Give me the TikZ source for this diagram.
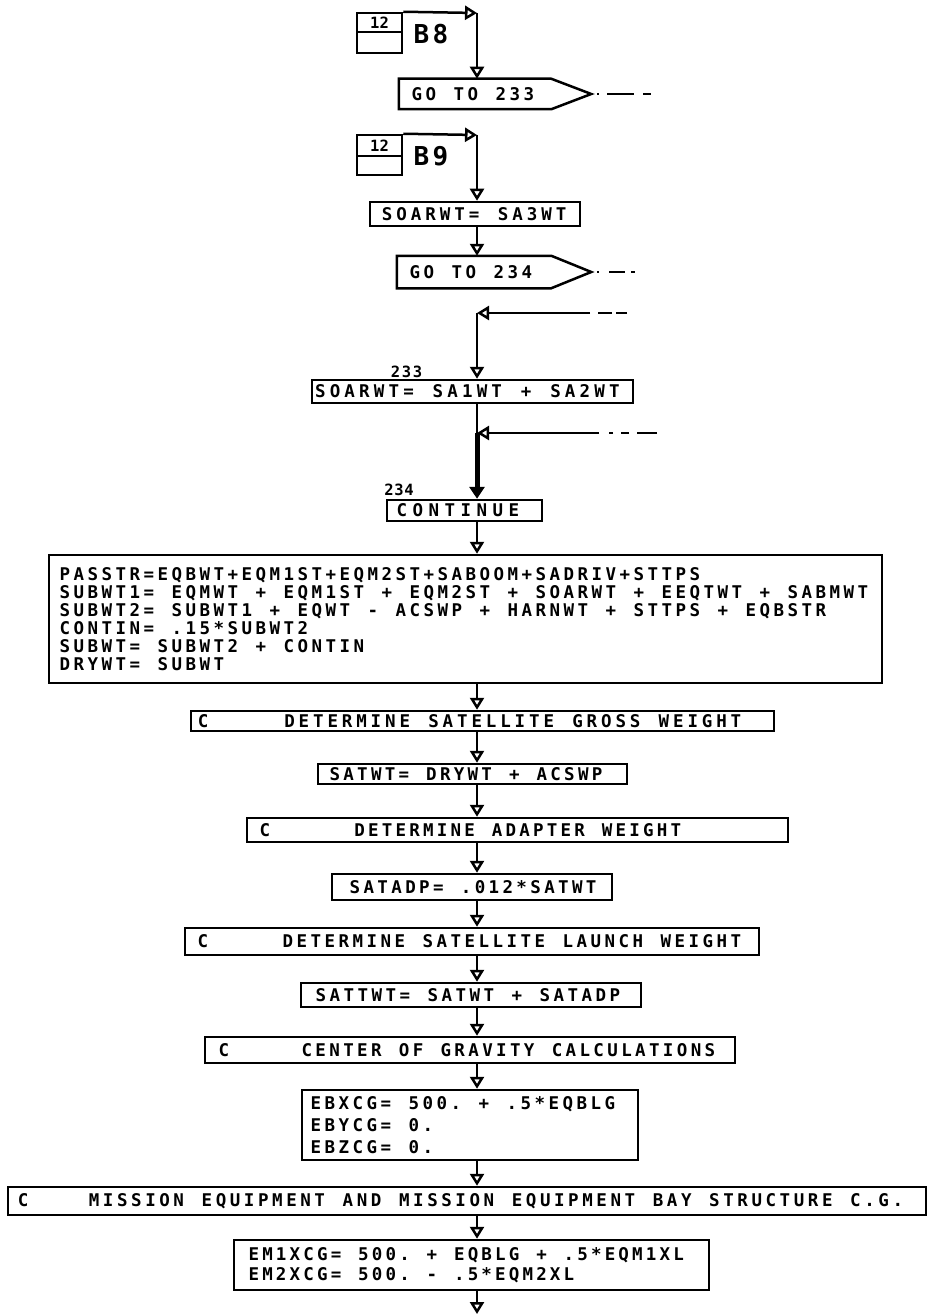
\documentclass[tikz,border=0pt]{standalone}
\usepackage{fontspec}
\usetikzlibrary{arrows.meta,calc}
\newfontfamily\plotfont{DejaVu Sans Mono Bold}
\ExplSyntaxOn
\cs_new_protected:Npn \monow #1 #2
  { \mode_leave_vertical: \str_map_inline:nn {#2} { \hbox_to_wd:nn {#1} { \hfil ##1 \hfil } } }
\ExplSyntaxOff
\newcommand\ctext[3]{\monow{#1}{C}\hspace*{#2}\monow{#1}{#3}}
\tikzset{
  boxline/.style={line width=2.5pt, line join=miter},
  pbox/.style={draw, boxline, rectangle, inner ysep=0pt, align=left,
    font=\plotfont\fontsize{17.5}{18}\selectfont},
  cbox/.style={draw, boxline, rectangle, inner sep=0pt},
  flow/.style={line width=2.5pt},
  thickflow/.style={line width=5pt},
  arr/.style={-{Triangle[open,width=14pt,length=12pt]}},
  farr/.style={-{Triangle[width=15pt,length=12pt]}},
  lbl/.style={inner sep=0pt, font=\plotfont\fontsize{15.5}{15}\selectfont},
  big/.style={inner sep=0pt, font=\plotfont\fontsize{26}{26}\selectfont},
}
\begin{document}
\begin{tikzpicture}[x=1pt,y=-1pt]
\useasboundingbox[fill=white] (0,0) rectangle (930,1316);
\coordinate (axis) at (477,0);

% ---- B8 entry
\node[cbox, minimum width=45pt, minimum height=19pt, lbl] (c8t) at (379.5,22.5) {12};
\node[cbox, minimum width=45pt, minimum height=21pt] (c8b) at (379.5,42.5) {};
\node[big] (b8) at (431,34) {\monow{19pt}{B8}};
\coordinate (k8) at (477,13);
\node[pbox, draw=none, text width=130pt, inner xsep=10pt, minimum height=28pt] (g233) at (475,94) {\monow{14pt}{GO TO 233}};
\coordinate (t233) at ($(g233.east)+(40,0)$);
\coordinate (o233) at (657,94);
\draw[boxline] (g233.north west) -- (g233.north east) -- (t233) -- (g233.south east) -- (g233.south west) -- cycle;
\draw[flow, dash pattern=on 2pt off 8pt on 27pt off 9pt on 8pt off 40pt] ([xshift=6pt]t233) -- (o233);
\draw[flow, arr] (c8t.north east) -- (k8);
\draw[flow, arr] (k8) -- (k8 |- g233.north);

% ---- B9 entry
\node[cbox, minimum width=45pt, minimum height=21pt, lbl] (c9t) at (379.5,145.5) {12};
\node[cbox, minimum width=45pt, minimum height=19pt] (c9b) at (379.5,165.5) {};
\node[big] (b9) at (431,156) {\monow{19pt}{B9}};
\coordinate (k9) at (477,135);
\node[pbox, text width=190pt, inner xsep=10pt, minimum height=24pt] (sa3) at (475,214) {\monow{14.5pt}{SOARWT= SA3WT}};
\node[pbox, draw=none, text width=132pt, inner xsep=10pt, minimum height=30pt] (g234) at (474,272) {\monow{14pt}{GO TO 234}};
\coordinate (t234) at ($(g234.east)+(40,0)$);
\coordinate (o234) at (643,272);
\draw[boxline] (g234.north west) -- (g234.north east) -- (t234) -- (g234.south east) -- (g234.south west) -- cycle;
\draw[flow, dash pattern=on 2pt off 10pt on 16pt off 6pt on 4pt off 40pt] ([xshift=6pt]t234) -- (o234);
\draw[flow, arr] (c9t.north east) -- (k9);
\draw[flow, arr] (k9) -- (k9 |- sa3.north);
\draw[flow, arr] (sa3.south -| axis) -- (g234.north -| axis);

% ---- 233
\coordinate (in233) at (627,313);
\coordinate (j233) at (477,313);
\node[pbox, text width=319pt, inner xsep=1pt, minimum height=23pt] (sa12) at (472.5,391.5) {\monow{14.7pt}{SOARWT= SA1WT + SA2WT}};
\node[lbl] (l233) at (406.5,372) {\monow{11pt}{233}};
\draw[flow, arr, dash pattern=on 11pt off 4pt on 14pt off 8pt on 300pt] (in233) -- (j233);
\draw[flow, arr] (j233) -- (j233 |- sa12.north);

% ---- 234
\coordinate (in234) at (657,433);
\coordinate (j234) at (477,433);
\node[pbox, text width=141pt, inner xsep=7pt, minimum height=21pt] (cont) at (464.5,510.5) {\monow{16pt}{CONTINUE}};
\node[lbl] (l234) at (399,490) {\monow{10pt}{234}};
\draw[flow, arr, dash pattern=on 20pt off 8pt on 8pt off 8pt on 4pt off 10pt on 300pt] (in234) -- (j234);
\draw[flow] (sa12.south -| axis) -- (j234);
\draw[thickflow, farr] (j234) -- (cont.north -| axis);

% ---- main chain
\node[pbox, text width=815pt, inner xsep=9pt, minimum height=128pt] (big) at (465.5,619) {%
\monow{14pt}{PASSTR=EQBWT+EQM1ST+EQM2ST+SABOOM+SADRIV+STTPS}\\
\monow{14pt}{SUBWT1= EQMWT + EQM1ST + EQM2ST + SOARWT + EEQTWT + SABMWT}\\
\monow{14pt}{SUBWT2= SUBWT1 + EQWT - ACSWP + HARNWT + STTPS + EQBSTR}\\
\monow{14pt}{CONTIN= .15*SUBWT2}\\
\monow{14pt}{SUBWT= SUBWT2 + CONTIN}\\
\monow{14pt}{DRYWT= SUBWT}};
\node[pbox, text width=573pt, inner xsep=5pt, minimum height=20pt] (gross) at (482.5,721) {\ctext{14.4pt}{72pt}{DETERMINE SATELLITE GROSS WEIGHT}};
\node[pbox, text width=289pt, inner xsep=10pt, minimum height=20pt] (sat) at (472.5,774) {\monow{13.8pt}{SATWT= DRYWT + ACSWP}};
\node[pbox, text width=519pt, inner xsep=11pt, minimum height=24pt] (adapt) at (517.5,830) {\ctext{13.75pt}{81pt}{DETERMINE ADAPTER WEIGHT}};
\node[pbox, text width=248pt, inner xsep=16pt, minimum height=26pt] (satadp) at (472,887) {\monow{13.9pt}{SATADP= .012*SATWT}};
\node[pbox, text width=552pt, inner xsep=11pt, minimum height=27pt] (launch) at (472,941.5) {\ctext{14pt}{71pt}{DETERMINE SATELLITE LAUNCH WEIGHT}};
\node[pbox, text width=314pt, inner xsep=13pt, minimum height=24pt] (sattwt) at (471,995) {\monow{14pt}{SATTWT= SATWT + SATADP}};
\node[pbox, text width=506pt, inner xsep=12pt, minimum height=26pt] (cg) at (470,1050) {\ctext{13.9pt}{69pt}{CENTER OF GRAVITY CALCULATIONS}};
\node[pbox, text width=322pt, inner xsep=7pt, minimum height=70pt, font=\plotfont\fontsize{17.5}{22}\selectfont] (ebx) at (470,1125) {%
\monow{14pt}{EBXCG= 500. + .5*EQBLG}\\
\monow{14pt}{EBYCG= 0.}\\
\monow{14pt}{EBZCG= 0.}};
\node[pbox, text width=902pt, inner xsep=8pt, minimum height=28pt] (mission) at (467,1201) {\ctext{14.1pt}{57pt}{MISSION EQUIPMENT AND MISSION EQUIPMENT BAY STRUCTURE C.G.}};
\node[pbox, text width=449pt, inner xsep=13pt, minimum height=50pt, font=\plotfont\fontsize{17.5}{20}\selectfont] (em) at (471.5,1265) {%
\monow{13.7pt}{EM1XCG= 500. + EQBLG + .5*EQM1XL}\\
\monow{13.7pt}{EM2XCG= 500. - .5*EQM2XL}};
\coordinate (endc) at (477,1314);

\draw[flow, arr] (cont.south -| axis) -- (big.north -| axis);
\draw[flow, arr] (big.south -| axis) -- (gross.north -| axis);
\draw[flow, arr] (gross.south -| axis) -- (sat.north -| axis);
\draw[flow, arr] (sat.south -| axis) -- (adapt.north -| axis);
\draw[flow, arr] (adapt.south -| axis) -- (satadp.north -| axis);
\draw[flow, arr] (satadp.south -| axis) -- (launch.north -| axis);
\draw[flow, arr] (launch.south -| axis) -- (sattwt.north -| axis);
\draw[flow, arr] (sattwt.south -| axis) -- (cg.north -| axis);
\draw[flow, arr] (cg.south -| axis) -- (ebx.north -| axis);
\draw[flow, arr] (ebx.south -| axis) -- (mission.north -| axis);
\draw[flow, arr] (mission.south -| axis) -- (em.north -| axis);
\draw[flow, arr] (em.south -| axis) -- (endc);
\end{tikzpicture}
\end{document}
